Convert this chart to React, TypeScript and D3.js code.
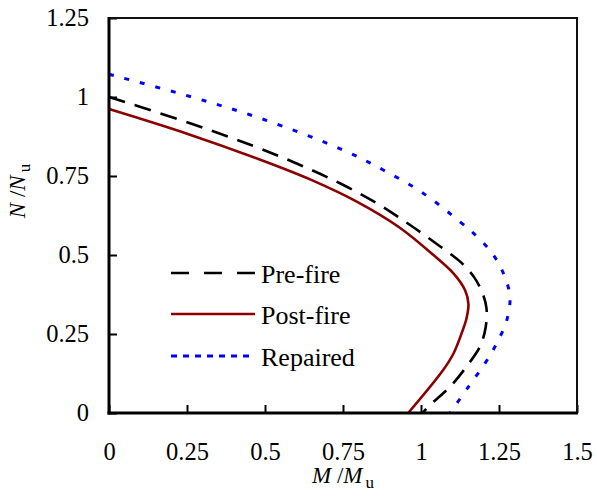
import * as d3 from 'd3';
import React, { useEffect, useRef } from 'react';

// M/Mu, N/Nu
const preFireM = [0, 0.26, 0.463, 0.612, 0.74, 0.858, 0.965, 1.071, 1.13, 1.17, 1.197, 1.21, 1.207, 1.189, 1.146, 1.093, 1.023, 1.005];
const preFireN = [1.0, 0.917, 0.845, 0.785, 0.727, 0.664, 0.595, 0.52, 0.475, 0.43, 0.38, 0.33, 0.27, 0.21, 0.147, 0.083, 0.02, 0];

const postFireM = [0, 0.25, 0.5, 0.65, 0.8, 0.93, 1.04, 1.104, 1.141, 1.152, 1.146, 1.133, 1.105, 1.071, 0.959];
const postFireN = [0.962, 0.884, 0.796, 0.737, 0.666, 0.588, 0.5, 0.442, 0.389, 0.345, 0.3, 0.26, 0.19, 0.136, 0];

const repairedM = [0, 0.244, 0.484, 0.751, 0.879, 1.008, 1.125, 1.168, 1.227, 1.265, 1.285, 1.275, 1.243, 1.205, 1.152, 1.093];
const repairedN = [1.072, 1.006, 0.933, 0.832, 0.769, 0.695, 0.605, 0.569, 0.507, 0.44, 0.368, 0.294, 0.221, 0.157, 0.083, 0];

const xTicks = [0, 0.25, 0.5, 0.75, 1, 1.25, 1.5];
const yTicks = [0, 0.25, 0.5, 0.75, 1, 1.25];
const seriesNames = ['Pre-fire', 'Post-fire', 'Repaired'];

const FONT = "'Liberation Serif', 'Times New Roman', Times, serif";

function InteractionChart() {
    const chartRef = useRef<SVGSVGElement | null>(null);

    useEffect(() => {
        const svg = d3.select(chartRef.current);
        svg.selectAll('*').remove();

        const x = d3.scaleLinear().domain([0, 1.5]).range([109, 577]);
        const y = d3.scaleLinear().domain([0, 1.25]).range([413, 18]);

        const series = [
            { name: seriesNames[0], m: preFireM, n: preFireN, color: '#000000', width: 2.6, dash: '17,10', legendDash: '18,15' },
            { name: seriesNames[1], m: postFireM, n: postFireN, color: '#8b0000', width: 2.6, dash: null, legendDash: null },
            { name: seriesNames[2], m: repairedM, n: repairedN, color: '#0000ff', width: 3, dash: '5,11', legendDash: '6,6' },
        ];

        const line = d3.line<[number, number]>()
            .x(d => x(d[0]))
            .y(d => y(d[1]))
            .curve(d3.curveCatmullRom.alpha(0.5));

        series.forEach(s => {
            const pts = s.m.map((v, i) => [v, s.n[i]] as [number, number]);
            svg.append('path')
                .attr('d', line(pts))
                .attr('fill', 'none')
                .attr('stroke', s.color)
                .attr('stroke-width', s.width)
                .attr('stroke-dasharray', s.dash);
        });

        // axes, ticks pointing inside
        const xAxis = svg.append('g')
            .attr('transform', 'translate(0,413)')
            .call(d3.axisBottom(x).tickValues(xTicks).tickSize(-8).tickPadding(30).tickFormat(d => String(d)));
        const yAxis = svg.append('g')
            .attr('transform', 'translate(109,0)')
            .call(d3.axisLeft(y).tickValues(yTicks).tickSize(-8).tickPadding(20).tickFormat(d => String(d)));

        [xAxis, yAxis].forEach(a => {
            a.attr('font-family', FONT).attr('font-size', 24.5);
            a.select('.domain').remove();
            a.selectAll('.tick line').attr('stroke', '#000').attr('stroke-width', 2);
            a.selectAll('.tick text').attr('fill', '#000').attr('font-family', FONT);
        });

        // frame
        svg.append('rect')
            .attr('x', 109).attr('y', 18)
            .attr('width', 468).attr('height', 395)
            .attr('fill', 'none')
            .attr('stroke', '#111')
            .attr('stroke-width', 2);
        svg.append('line')
            .attr('x1', 109).attr('x2', 109).attr('y1', 17).attr('y2', 414.5)
            .attr('stroke', '#000').attr('stroke-width', 3);
        svg.append('line')
            .attr('x1', 107.5).attr('x2', 578).attr('y1', 413).attr('y2', 413)
            .attr('stroke', '#000').attr('stroke-width', 3);

        // legend
        const legendY = [273, 314, 356];
        series.forEach((s, i) => {
            svg.append('line')
                .attr('x1', 171).attr('x2', 255)
                .attr('y1', legendY[i]).attr('y2', legendY[i])
                .attr('stroke', s.color)
                .attr('stroke-width', s.width)
                .attr('stroke-dasharray', s.legendDash);
            svg.append('text')
                .attr('x', 261)
                .attr('y', legendY[i] + 9.5)
                .attr('font-family', FONT)
                .attr('font-size', 26)
                .text(s.name);
        });

        // axis titles
        const xTitle = svg.append('text')
            .attr('x', 343)
            .attr('y', 483)
            .attr('text-anchor', 'middle')
            .attr('font-family', FONT)
            .attr('font-size', 23);
        xTitle.append('tspan').attr('font-style', 'italic').text('M ');
        xTitle.append('tspan').text('/');
        xTitle.append('tspan').attr('font-style', 'italic').text('M');
        xTitle.append('tspan').attr('dy', 5).attr('dx', 3).attr('font-size', 17).text('u');

        const yTitle = svg.append('text')
            .attr('transform', 'translate(25,191) rotate(-90)')
            .attr('text-anchor', 'middle')
            .attr('font-family', FONT)
            .attr('font-size', 23);
        yTitle.append('tspan').attr('font-style', 'italic').text('N ');
        yTitle.append('tspan').text('/');
        yTitle.append('tspan').attr('font-style', 'italic').text('N');
        yTitle.append('tspan').attr('dy', 5).attr('dx', 3).attr('font-size', 17).text('u');
    }, []);

    return (
        <svg ref={chartRef} width={597} height={497}
            style={{ position: 'absolute', left: 0, top: 0, background: '#fff', fontFamily: FONT }} />
    );
}

export default function App() {
    return <InteractionChart />;
}
